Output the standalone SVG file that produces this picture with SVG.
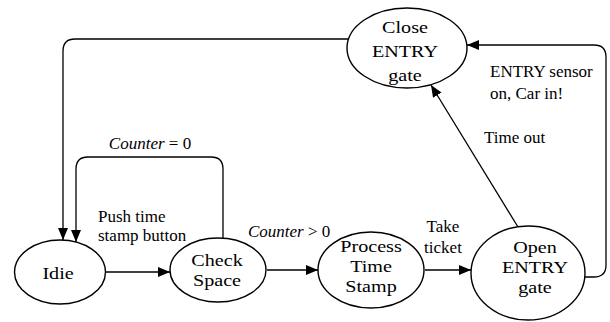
<svg xmlns="http://www.w3.org/2000/svg" width="610" height="322" viewBox="0 0 610 322">
<style>
.node{fill:#fff;stroke:#000;stroke-width:1.4}
.nt{font-family:'Liberation Serif','DejaVu Serif',Times,serif;font-size:17.5px;fill:#000;text-anchor:middle}
.lb{font-family:'Liberation Serif','DejaVu Serif',Times,serif;font-size:17px;fill:#000}
.it{font-style:italic}
.edge{fill:none;stroke:#000;stroke-width:1.3}
</style>
<defs>
<marker id="arr" markerUnits="userSpaceOnUse" markerWidth="13" markerHeight="11" refX="12" refY="5" orient="auto">
<path d="M0,0 L12,5 L0,10 z" fill="#000"/>
</marker>
</defs>
<rect width="610" height="322" fill="#fff"/>
<g id="connectors">
<path class="edge" d="M348,39 H75 Q63,39 63,51 V240" marker-end="url(#arr)"/>
<path class="edge" d="M223,238 V169 Q223,157 211,157 H88 Q76,157 76,169 V242" marker-end="url(#arr)"/>
<path class="edge" d="M106,272 H170" marker-end="url(#arr)"/>
<path class="edge" d="M267,270 H318" marker-end="url(#arr)"/>
<path class="edge" d="M425,270 H471" marker-end="url(#arr)"/>
<path class="edge" d="M518,227 L431,85" marker-end="url(#arr)"/>
<path class="edge" d="M585,277 H594 Q606,277 606,265 V57 Q606,45 594,45 H467" marker-end="url(#arr)"/>
</g>
<g id="labels">
<text class="lb" x="150" y="149" text-anchor="middle"><tspan class="it">Counter</tspan> = 0</text>
<text class="lb" x="98" y="222">Push time</text>
<text class="lb" x="98" y="241">stamp button</text>
<text class="lb" x="248" y="237"><tspan class="it">Counter</tspan> &gt; 0</text>
<text class="lb" x="443" y="232" text-anchor="middle">Take</text>
<text class="lb" x="443" y="253" text-anchor="middle">ticket</text>
<text class="lb" x="490" y="77">ENTRY sensor</text>
<text class="lb" x="490" y="99">on, Car in!</text>
<text class="lb" x="484" y="143">Time out</text>
</g>
<g id="idle">
<ellipse class="node" cx="60" cy="272" rx="45.5" ry="32"/>
<text class="nt" transform="translate(58,0) scale(1.15,1)" x="0" y="279">Idie</text>
</g>
<g id="check-space">
<ellipse class="node" cx="218" cy="270" rx="48" ry="32"/>
<text class="nt" transform="translate(217,0) scale(1.15,1)" x="0" y="266.5">Check</text>
<text class="nt" transform="translate(217,0) scale(1.15,1)" x="0" y="286.5">Space</text>
</g>
<g id="process-time-stamp">
<ellipse class="node" cx="371" cy="270" rx="53" ry="38"/>
<text class="nt" transform="translate(371,0) scale(1.15,1)" x="0" y="252.5">Process</text>
<text class="nt" transform="translate(371,0) scale(1.15,1)" x="0" y="272.5">Time</text>
<text class="nt" transform="translate(371,0) scale(1.15,1)" x="0" y="292.5">Stamp</text>
</g>
<g id="open-entry-gate">
<ellipse class="node" cx="528" cy="273" rx="57" ry="47"/>
<text class="nt" transform="translate(535,0) scale(1.15,1)" x="0" y="253">Open</text>
<text class="nt" transform="translate(535,0) scale(1.15,1)" x="0" y="273">ENTRY</text>
<text class="nt" transform="translate(535,0) scale(1.15,1)" x="0" y="293">gate</text>
</g>
<g id="close-entry-gate">
<ellipse class="node" cx="407" cy="48" rx="60" ry="40"/>
<text class="nt" transform="translate(405,0) scale(1.15,1)" x="0" y="33">Close</text>
<text class="nt" transform="translate(405,0) scale(1.15,1)" x="0" y="57">ENTRY</text>
<text class="nt" transform="translate(405,0) scale(1.15,1)" x="0" y="81">gate</text>
</g>
</svg>
